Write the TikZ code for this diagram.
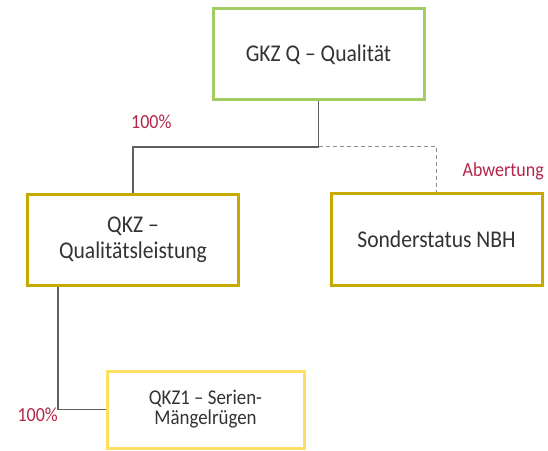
\documentclass[tikz,border=0pt]{standalone}
\usepackage{fontspec}
\setmainfont{Carlito}[FakeStretch=0.9]
\usetikzlibrary{calc}
\definecolor{boxgreen}{RGB}{163,204,100}
\definecolor{boxgold}{RGB}{200,169,0}
\definecolor{boxyellow}{RGB}{255,222,100}
\definecolor{labred}{RGB}{181,37,74}
\definecolor{txtgray}{RGB}{51,51,51}
\definecolor{linegray}{RGB}{95,95,95}
\definecolor{dashgray}{RGB}{140,140,140}
\tikzset{
  x=1bp, y=-1bp,
  box/.style={draw, line width=3bp, fill=white, inner sep=0pt, align=center, text=txtgray},
  bigbox/.style={box, minimum width=211bp, minimum height=91bp, font=\fontsize{24bp}{26bp}\selectfont},
  smallbox/.style={box, minimum width=197bp, minimum height=77bp, font=\fontsize{21bp}{20bp}\selectfont},
  conn/.style={draw=linegray, line width=1.2bp},
  dconn/.style={draw=dashgray, line width=1bp, dash pattern=on 4bp off 3bp},
  lab/.style={text=labred, font=\fontsize{20bp}{22bp}\selectfont, inner sep=0pt}
}
\begin{document}
\begin{tikzpicture}
\useasboundingbox (0,0) rectangle (548,451);
\node[bigbox, draw=boxgreen] (t) at (318.5,54.5) {GKZ Q – Qualität};
\node[bigbox, draw=boxgold] (q) at (133,240) {QKZ –\\Qualitätsleistung};
\node[bigbox, draw=boxgold] (s) at (436.5,239.5) {Sonderstatus NBH};
\node[smallbox, draw=boxyellow] (q1) at (205.5,409.5) {QKZ1 – Serien-\\Mängelrügen};
\coordinate (j) at (318.5,147);
\draw[conn] (t.south) -- (j) -| (q.north);
\draw[dconn] (j) -| (s.north);
\draw[conn] ([xshift=32bp]q.south west) |- (q1.west);
\node[lab, anchor=base west] (l1) at (131,129) {100\%};
\node[lab, anchor=base east] (l2) at (544,176.7) {Abwertung};
\node[lab, anchor=base east] (l3) at (58,421) {100\%};
\end{tikzpicture}
\end{document}
